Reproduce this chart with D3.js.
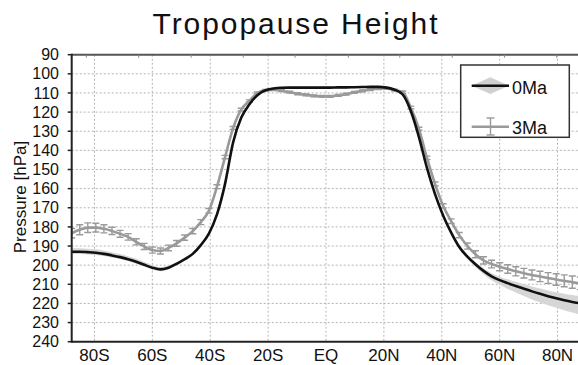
<!DOCTYPE html>
<html lang="en">
<head>
<meta charset="utf-8">
<title>Tropopause Height</title>
<script src="https://d3js.org/d3.v7.min.js"></script>
<style>
  body { margin: 0; background: #fff; }
  svg { display: block; }
  .tick-label { font-family: "Liberation Sans", Arial, sans-serif; fill: #111; }
  .grid { stroke: #b4b4b4; stroke-width: 1; stroke-dasharray: 2,2; }
</style>
</head>
<body>
<svg width="578" height="365"></svg>
<script>
// T42 gaussian latitudes (south -> north)
const lats = [-87.86, -85.10, -82.31, -79.53, -76.74, -73.95, -71.16, -68.37, -65.58, -62.79,
  -60.00, -57.21, -54.42, -51.63, -48.84, -46.04, -43.25, -40.46, -37.67, -34.88,
  -32.09, -29.30, -26.51, -23.72, -20.93, -18.14, -15.35, -12.56, -9.77, -6.98, -4.19, -1.40,
  1.40, 4.19, 6.98, 9.77, 12.56, 15.35, 18.14, 20.93, 23.72, 26.51, 29.30, 32.09,
  34.88, 37.67, 40.46, 43.25, 46.04, 48.84, 51.63, 54.42, 57.21, 60.00,
  62.79, 65.58, 68.37, 71.16, 73.95, 76.74, 79.53, 82.31, 85.10, 87.86];

// 0Ma tropopause pressure (hPa)
const p0Ma = [193.0, 193.0, 193.2, 193.5, 194.1, 194.9, 195.8, 196.9, 198.2, 199.8,
  201.3, 202.2, 201.3, 199.3, 196.9, 194.1, 189.5, 183.5, 173.5, 157.5,
  135.8, 123.0, 116.0, 111.2, 108.6, 107.7, 107.3, 107.2, 107.2, 107.2, 107.2, 107.2,
  107.2, 107.1, 107.1, 107.0, 106.9, 106.8, 106.8, 107.2, 108.3, 110.8, 119.4, 132.9,
  149.2, 162.9, 174.0, 183.0, 190.5, 195.5, 199.5, 203.0, 205.8, 207.8,
  209.4, 210.9, 212.3, 213.7, 215.0, 216.2, 217.3, 218.3, 219.2, 220.0];

// 0Ma shading: extent above / below the line (hPa)
const spread0Up = [1.8, 1.8, 1.8, 1.8, 1.7, 1.7, 1.6, 1.6, 1.5, 1.4,
  1.3, 1.2, 1.1, 1.0, 1.0, 0.9, 0.8, 0.8, 0.8, 0.8,
  0.7, 0.6, 0.5, 0.5, 0.5, 0.5, 0.5, 0.5, 0.5, 0.5, 0.5, 0.5,
  0.5, 0.5, 0.5, 0.5, 0.5, 0.5, 0.5, 0.5, 0.5, 0.6, 0.7, 0.8,
  0.8, 0.8, 0.9, 1.0, 1.0, 1.1, 1.2, 1.4, 1.6, 1.8,
  2.0, 2.2, 2.4, 2.6, 2.8, 3.0, 3.2, 3.4, 3.6, 3.8];
const spread0Dn = [1.2, 1.2, 1.2, 1.2, 1.1, 1.1, 1.0, 1.0, 1.0, 1.0,
  1.0, 1.0, 0.9, 0.9, 0.9, 0.9, 0.8, 0.8, 0.8, 0.8,
  0.7, 0.6, 0.5, 0.5, 0.5, 0.5, 0.5, 0.5, 0.5, 0.5, 0.5, 0.5,
  0.5, 0.5, 0.5, 0.5, 0.5, 0.5, 0.5, 0.5, 0.5, 0.6, 0.7, 0.8,
  0.8, 0.8, 0.9, 1.0, 1.1, 1.2, 1.4, 1.7, 2.1, 2.5,
  3.0, 3.4, 3.8, 4.2, 4.5, 4.8, 5.0, 5.2, 5.5, 5.8];

// 3Ma tropopause pressure (hPa) and error bar half-length
const p3Ma = [183.3, 181.5, 180.4, 180.4, 181.0, 182.1, 183.6, 185.2, 187.8, 190.2,
  192.1, 192.6, 191.0, 188.6, 185.6, 182.2, 177.5, 171.6, 159.0, 143.5,
  128.3, 118.7, 114.2, 110.0, 108.6, 108.3, 108.8, 109.6, 110.4, 111.0, 111.5, 111.8,
  111.8, 111.3, 110.6, 109.7, 108.9, 108.2, 107.7, 107.6, 108.5, 109.6, 117.6, 128.7,
  143.9, 157.5, 169.0, 177.0, 184.3, 190.0, 194.3, 197.5, 199.4, 200.8,
  202.0, 203.2, 204.2, 205.1, 205.9, 206.7, 207.5, 208.2, 208.9, 209.5];
const err3Ma = [2.5, 2.6, 2.5, 2.3, 2.1, 1.9, 1.8, 1.7, 1.6, 1.6,
  1.6, 1.6, 1.5, 1.5, 1.4, 1.4, 1.3, 1.2, 1.0, 0.9,
  0.8, 0.7, 0.6, 0.5, 0.5, 0.5, 0.5, 0.5, 0.5, 0.5, 0.5, 0.5,
  0.5, 0.5, 0.5, 0.5, 0.5, 0.5, 0.5, 0.5, 0.5, 0.6, 0.7, 0.8,
  0.9, 1.0, 1.1, 1.2, 1.4, 1.6, 1.8, 1.9, 2.0, 2.1,
  2.2, 2.4, 2.5, 2.6, 2.7, 2.8, 3.0, 3.1, 3.2, 3.3];

const xTicks = [-80, -60, -40, -20, 0, 20, 40, 60, 80];
const xTickLabels = ["80S", "60S", "40S", "20S", "EQ", "20N", "40N", "60N", "80N"];
const yTicks = [90, 100, 110, 120, 130, 140, 150, 160, 170, 180, 190, 200, 210, 220, 230, 240];
const topMinorTicks = [-82.8, -64.7, -46.6, -28.6, -10.7, 7.7, 25.5, 43.6, 61.7, 79.7];
const legendNames = ["0Ma", "3Ma"];

const svg = d3.select("svg");
const pLeft = 71.7, pRight = 580.3, pTop = 54.7, pBottom = 341.7;

const x = d3.scaleLinear().domain([-87.86, 87.86]).range([pLeft, pRight]);
const y = d3.scaleLinear().domain([90, 240]).range([pTop, pBottom]);

svg.append("defs").append("clipPath").attr("id", "plotclip")
  .append("rect").attr("x", pLeft).attr("y", pTop).attr("width", pRight - pLeft).attr("height", pBottom - pTop);

// title
svg.append("text")
  .attr("x", 295).attr("y", 34)
  .attr("text-anchor", "middle")
  .attr("textLength", 285)
  .style("font-family", "'Liberation Sans', Arial, sans-serif")
  .style("font-size", "30px")
  .style("fill", "#111")
  .text("Tropopause Height");

// grid
const grid = svg.append("g");
grid.selectAll(".vg").data(xTicks).enter().append("line")
  .attr("class", "grid")
  .attr("x1", d => x(d)).attr("x2", d => x(d))
  .attr("y1", pTop).attr("y2", pBottom);
grid.selectAll(".hg").data(yTicks.slice(1, -1)).enter().append("line")
  .attr("class", "grid")
  .attr("x1", pLeft).attr("x2", pRight)
  .attr("y1", d => y(d)).attr("y2", d => y(d));

const plot = svg.append("g").attr("clip-path", "url(#plotclip)");

const rows = lats.map((lat, i) => ({
  lat: lat, p0: p0Ma[i], up: spread0Up[i], dn: spread0Dn[i], p3: p3Ma[i], e: err3Ma[i]
}));

// 0Ma shading
plot.append("path")
  .datum(rows)
  .attr("fill", "#d6d6d6")
  .attr("d", d3.area()
    .x(d => x(d.lat))
    .y0(d => y(d.p0 + d.dn))
    .y1(d => y(d.p0 - d.up))
    .curve(d3.curveMonotoneX));

// 3Ma error bars
const eb = plot.append("g").attr("stroke", "#9a9a9a").attr("stroke-width", 1.4);
eb.selectAll(".ev").data(rows).enter().append("line")
  .attr("x1", d => x(d.lat)).attr("x2", d => x(d.lat))
  .attr("y1", d => y(d.p3 - d.e)).attr("y2", d => y(d.p3 + d.e));
eb.selectAll(".et").data(rows).enter().append("line")
  .attr("x1", d => x(d.lat) - 3.5).attr("x2", d => x(d.lat) + 3.5)
  .attr("y1", d => y(d.p3 - d.e)).attr("y2", d => y(d.p3 - d.e));
eb.selectAll(".eb").data(rows).enter().append("line")
  .attr("x1", d => x(d.lat) - 3.5).attr("x2", d => x(d.lat) + 3.5)
  .attr("y1", d => y(d.p3 + d.e)).attr("y2", d => y(d.p3 + d.e));

// 3Ma line
plot.append("path")
  .datum(rows)
  .attr("fill", "none")
  .attr("stroke", "#9a9a9a")
  .attr("stroke-width", 2.6)
  .attr("d", d3.line().x(d => x(d.lat)).y(d => y(d.p3)).curve(d3.curveMonotoneX));

// 0Ma line
plot.append("path")
  .datum(rows)
  .attr("fill", "none")
  .attr("stroke", "#111")
  .attr("stroke-width", 2.6)
  .attr("d", d3.line().x(d => x(d.lat)).y(d => y(d.p0)).curve(d3.curveMonotoneX));

// frame
svg.append("line").attr("x1", pLeft).attr("x2", 578).attr("y1", pTop).attr("y2", pTop)
  .attr("stroke", "#555").attr("stroke-width", 2);
svg.append("line").attr("x1", pLeft).attr("x2", 578).attr("y1", pBottom).attr("y2", pBottom)
  .attr("stroke", "#222").attr("stroke-width", 2);
svg.append("line").attr("x1", pLeft).attr("x2", pLeft).attr("y1", pTop - 1).attr("y2", pBottom + 1)
  .attr("stroke", "#222").attr("stroke-width", 2);

// minor ticks on top frame
svg.selectAll(".tm").data(topMinorTicks).enter().append("line")
  .attr("x1", d => x(d)).attr("x2", d => x(d))
  .attr("y1", pTop).attr("y2", pTop + 3)
  .attr("stroke", "#888").attr("stroke-width", 1);

// y axis ticks + labels
svg.selectAll(".yt").data(yTicks).enter().append("line")
  .attr("x1", pLeft - 4).attr("x2", pLeft)
  .attr("y1", d => y(d)).attr("y2", d => y(d))
  .attr("stroke", "#222").attr("stroke-width", 1.5);
svg.selectAll(".yl").data(yTicks).enter().append("text")
  .attr("class", "tick-label")
  .attr("x", 59).attr("y", d => y(d) + 5.6)
  .attr("text-anchor", "end")
  .style("font-size", "16px")
  .text(d => d);

// x labels
svg.selectAll(".xl").data(xTicks).enter().append("text")
  .attr("class", "tick-label")
  .attr("x", d => x(d)).attr("y", 361)
  .attr("text-anchor", "middle")
  .style("font-size", "17px")
  .text((d, i) => xTickLabels[i]);

// y title
svg.append("text")
  .attr("class", "tick-label")
  .attr("transform", "translate(26,197) rotate(-90)")
  .attr("text-anchor", "middle")
  .style("font-size", "17px")
  .text("Pressure [hPa]");

// legend
const lg = svg.append("g");
lg.append("rect").attr("x", 460.7).attr("y", 65).attr("width", 108.6).attr("height", 72.3)
  .attr("fill", "#fff").attr("stroke", "#333").attr("stroke-width", 1.5);
lg.append("path").attr("d", "M471.7,85.7L490.3,77.3L509,85.7L490.3,94Z").attr("fill", "#d0d0d0");
lg.append("line").attr("x1", 471.7).attr("x2", 509).attr("y1", 85.7).attr("y2", 85.7)
  .attr("stroke", "#111").attr("stroke-width", 2.6);
lg.append("line").attr("x1", 471.7).attr("x2", 509).attr("y1", 126.7).attr("y2", 126.7)
  .attr("stroke", "#9a9a9a").attr("stroke-width", 2.6);
const lgE = lg.append("g").attr("stroke", "#9a9a9a").attr("stroke-width", 1.4);
lgE.append("line").attr("x1", 490.5).attr("x2", 490.5).attr("y1", 118).attr("y2", 135);
lgE.append("line").attr("x1", 486.5).attr("x2", 494.5).attr("y1", 118).attr("y2", 118);
lgE.append("line").attr("x1", 486.5).attr("x2", 494.5).attr("y1", 135).attr("y2", 135);
lg.selectAll(".lt").data(legendNames).enter().append("text")
  .attr("class", "tick-label")
  .attr("x", 512).attr("y", (d, i) => i === 0 ? 93.5 : 133.5)
  .style("font-size", "18px")
  .text(d => d);
</script>
</body>
</html>
